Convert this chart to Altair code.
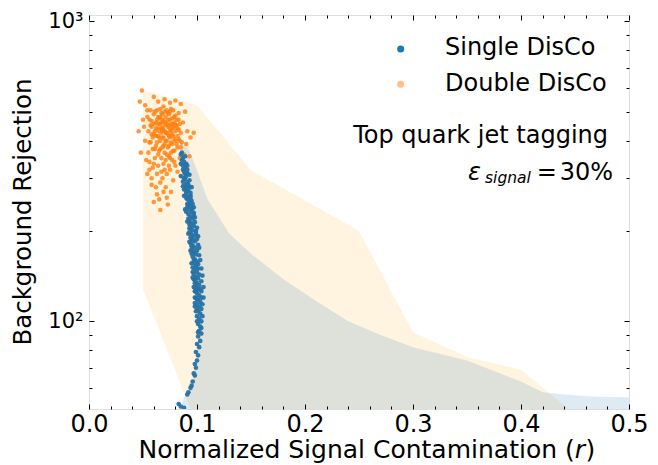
import altair as alt
import pandas as pd

# ---------------- data ----------------
# Double DisCo band (orange), vertical band: r -> [low, high] rejection
dd_band_r = [0.05, 0.10, 0.15, 0.20, 0.25, 0.30, 0.35, 0.40, 0.45]
dd_band_hi = [588, 526, 319, 253, 200, 92, 76, 69, 49]
dd_band_lo = [128, 45, 40, 40, 40, 40, 40, 40, 40]

# Single DisCo band (blue), horizontal band: rejection -> [r_lo, r_hi]
sd_band_rej = [395, 370, 319, 254, 196, 168, 138, 117, 100, 90, 82, 74, 63, 58, 57, 56, 55.8, 45]
sd_band_lo = [0.084, 0.086, 0.090, 0.093, 0.095, 0.097, 0.099, 0.101, 0.102, 0.102, 0.101,
              0.099, 0.096, 0.092, 0.091, 0.089, 0.088, 0.080]
sd_band_hi = [0.086, 0.093, 0.100, 0.110, 0.130, 0.150, 0.180, 0.210, 0.240, 0.270, 0.300,
              0.350, 0.400, 0.420, 0.440, 0.470, 0.500, 0.550]

# Double DisCo scatter (orange)
dd_r = [0.056, 0.058, 0.059, 0.060, 0.061, 0.062, 0.062, 0.063, 0.064, 0.064,
        0.065, 0.065, 0.066, 0.066, 0.067, 0.067, 0.068, 0.068, 0.069, 0.069,
        0.070, 0.070, 0.071, 0.071, 0.072, 0.072, 0.073, 0.073, 0.074, 0.074,
        0.075, 0.075, 0.076, 0.076, 0.077, 0.077, 0.078, 0.078, 0.079, 0.079,
        0.080, 0.080, 0.081, 0.081, 0.082, 0.083, 0.083, 0.060, 0.063, 0.066,
        0.068, 0.070, 0.072, 0.074, 0.076, 0.078, 0.061, 0.067, 0.071, 0.075,
        0.058, 0.057, 0.084, 0.082, 0.069, 0.073, 0.065, 0.077, 0.071, 0.064,
        0.049, 0.047, 0.052, 0.050, 0.054, 0.046, 0.052, 0.048, 0.053, 0.056,
        0.060, 0.058, 0.063, 0.066, 0.070, 0.074, 0.079, 0.084, 0.088, 0.093,
        0.097, 0.091, 0.087, 0.089, 0.085, 0.080, 0.075, 0.070, 0.064, 0.060,
        0.069, 0.073, 0.065, 0.062, 0.078, 0.055, 0.051, 0.086, 0.090, 0.094,
        0.054, 0.055, 0.056, 0.057, 0.058, 0.059, 0.060, 0.061, 0.062, 0.063,
        0.064, 0.065, 0.066, 0.067, 0.068, 0.068, 0.069, 0.070, 0.070, 0.071,
        0.072, 0.072, 0.073, 0.073, 0.074, 0.075, 0.075, 0.076, 0.076, 0.077,
        0.078, 0.078, 0.079, 0.080, 0.080, 0.081, 0.082, 0.083, 0.084, 0.085,
        0.062, 0.066, 0.069, 0.074, 0.079, 0.057, 0.083, 0.085, 0.064, 0.067,
        0.056, 0.059, 0.061, 0.064, 0.067, 0.069, 0.072, 0.075, 0.077, 0.080,
        0.058, 0.063, 0.068, 0.071, 0.076, 0.060, 0.066, 0.072, 0.082, 0.054]
dd_rej = [470, 445, 410, 490, 430, 385, 460, 505, 415, 440,
          370, 475, 400, 455, 425, 495, 380, 440, 465, 410,
          390, 450, 480, 425, 360, 400, 445, 470, 415, 385,
          500, 435, 455, 395, 420, 475, 370, 440, 460, 405,
          485, 430, 390, 450, 415, 470, 435, 455, 395, 510,
          490, 365, 505, 490, 365, 505, 375, 350, 345, 350,
          420, 395, 400, 380, 435, 420, 430, 445, 460, 480,
          588, 540, 525, 470, 505, 430, 400, 365, 345, 320,
          335, 300, 310, 290, 320, 330, 340, 350, 360, 355,
          425, 430, 460, 500, 530, 545, 535, 550, 540, 560,
          270, 245, 255, 280, 295, 365, 445, 395, 390, 410,
          480, 430, 395, 505, 465, 375, 420, 500, 440, 470,
          360, 410, 480, 440, 410, 470, 385, 500, 430, 400,
          455, 425, 380, 495, 450, 410, 470, 430, 510, 390,
          455, 415, 480, 400, 450, 470, 440, 405, 455, 425,
          415, 375, 520, 355, 370, 450, 495, 380, 455, 460,
          340, 325, 350, 330, 315, 335, 310, 320, 345, 330,
          285, 265, 300, 280, 270, 250, 235, 258, 315, 310]

# Single DisCo scatter (blue)
sd_r = [0.086, 0.087, 0.088, 0.087, 0.089, 0.088, 0.090, 0.089, 0.091, 0.089,
        0.090, 0.092, 0.090, 0.092, 0.091, 0.093, 0.089, 0.091, 0.088, 0.092,
        0.092, 0.094, 0.093, 0.095, 0.092, 0.094, 0.096, 0.093, 0.095, 0.097,
        0.094, 0.096, 0.093, 0.095, 0.097, 0.095, 0.098, 0.094, 0.096, 0.098,
        0.095, 0.097, 0.099, 0.096, 0.098, 0.100, 0.097, 0.099, 0.096, 0.098,
        0.100, 0.097, 0.099, 0.101, 0.098, 0.100, 0.102, 0.099, 0.101, 0.098,
        0.100, 0.102, 0.099, 0.101, 0.103, 0.100, 0.102, 0.104, 0.101, 0.103,
        0.100, 0.102, 0.104, 0.101, 0.103,
        0.102, 0.104, 0.101, 0.103, 0.100, 0.102, 0.099, 0.101, 0.100, 0.098,
        0.099, 0.097, 0.098, 0.096, 0.095, 0.094, 0.092, 0.091, 0.083, 0.085, 0.088,
        0.091, 0.096, 0.097, 0.093, 0.099, 0.096, 0.100, 0.095, 0.101, 0.097,
        0.103, 0.100, 0.098, 0.104, 0.090, 0.093, 0.087, 0.094,
        0.090, 0.086, 0.091, 0.087, 0.093, 0.088, 0.094, 0.090, 0.095, 0.091,
        0.096, 0.090, 0.097, 0.092, 0.098, 0.093, 0.099, 0.094, 0.100, 0.095,
        0.101, 0.096, 0.102, 0.097, 0.101, 0.096, 0.102, 0.098, 0.104, 0.099,
        0.104, 0.100, 0.105, 0.099, 0.105, 0.100, 0.104, 0.101,
        0.097, 0.089, 0.098, 0.091, 0.100, 0.092, 0.101, 0.093, 0.102, 0.094,
        0.103, 0.095, 0.104, 0.096, 0.105, 0.097, 0.106, 0.098, 0.106, 0.098,
        0.094, 0.088, 0.095, 0.087, 0.093, 0.085, 0.091, 0.085, 0.089, 0.085]
sd_rej = [365, 350, 340, 330, 325, 315, 305, 298, 290, 285,
          278, 272, 265, 260, 255, 250, 310, 320, 300, 285,
          245, 242, 236, 232, 228, 224, 220, 216, 212, 208,
          205, 201, 198, 195, 192, 188, 185, 182, 179, 176,
          173, 170, 167, 164, 161, 158, 156, 153, 151, 149,
          146, 144, 141, 139, 137, 134, 132, 130, 128, 126,
          124, 122, 120, 118, 116, 114, 112, 110, 108, 106,
          104, 102, 100, 98, 96,
          93, 91, 89, 86, 84, 82, 79, 77, 74, 72,
          70, 67, 66, 63, 61, 60, 58, 57, 53, 52, 51.5,
          240, 238, 226, 210, 200, 186, 172, 168, 155, 138,
          128, 110, 115, 120, 270, 280, 320, 262,
          335, 345, 312, 292, 295, 275, 268, 258, 252, 246,
          246, 232, 230, 220, 214, 204, 196, 190, 188, 178,
          180, 170, 166, 160, 150, 146, 143, 134, 136, 126,
          126, 118, 114, 108, 104, 100, 95, 92,
          240, 236, 222, 215, 205, 196, 192, 184, 176, 172,
          160, 156, 150, 140, 142, 130, 130, 120, 120, 112,
          258, 262, 280, 282, 308, 305, 330, 335, 355, 360]

# axis ticks / labels
x_major = [0.0, 0.1, 0.2, 0.3, 0.4, 0.5]
x_minor = [0.02, 0.04, 0.06, 0.08, 0.12, 0.14, 0.16, 0.18, 0.22, 0.24, 0.26, 0.28,
           0.32, 0.34, 0.36, 0.38, 0.42, 0.44, 0.46, 0.48]
y_major = [100, 1000]
y_minor = [60, 70, 80, 90, 200, 300, 400, 500, 600, 700, 800, 900]

legend_labels = ["Single DisCo", "Double DisCo"]
note_title = "Top quark jet tagging"
x_title = ["Normalized Signal Contamination (", "r", ")"]
y_title = "Background Rejection"

BLUE = "#1f77b4"
ORANGE = "#ff7f0e"
FONT = "DejaVu Sans"

# ---------------- scales ----------------
xs = alt.Scale(domain=[0, 0.5], nice=False, zero=False)
ys = alt.Scale(type="log", domain=[51, 1050], nice=False)

one = pd.DataFrame({"r": [0.25], "rej": [200.0]})

dd_band = pd.DataFrame({"r": dd_band_r, "hi": dd_band_hi, "lo": dd_band_lo})
sd_band = pd.DataFrame({"rej": sd_band_rej, "lo": sd_band_lo, "hi": sd_band_hi})
dd_pts = pd.DataFrame({"r": dd_r, "rej": dd_rej})
sd_pts = pd.DataFrame({"r": sd_r, "rej": sd_rej})

layers = []

# bands
layers.append(
    alt.Chart(dd_band).mark_area(clip=True, color="#ffa500", opacity=0.12).encode(
        x=alt.X("r:Q", scale=xs, axis=None),
        y=alt.Y("hi:Q", scale=ys, axis=None),
        y2="lo:Q",
    )
)
layers.append(
    alt.Chart(sd_band).mark_area(clip=True, orient="horizontal", color=BLUE, opacity=0.15).encode(
        y=alt.Y("rej:Q", scale=ys, axis=None),
        x=alt.X("lo:Q", scale=xs, axis=None),
        x2="hi:Q",
    )
)
# scatter
layers.append(
    alt.Chart(dd_pts).mark_circle(size=21, color=ORANGE, opacity=0.8, clip=True).encode(
        x=alt.X("r:Q", scale=xs, axis=None),
        y=alt.Y("rej:Q", scale=ys, axis=None),
    )
)
layers.append(
    alt.Chart(sd_pts).mark_circle(size=22, color="#2672a6", opacity=0.95, clip=True).encode(
        x=alt.X("r:Q", scale=xs, axis=None),
        y=alt.Y("rej:Q", scale=ys, axis=None),
    )
)


def xaxis_layer(axis):
    return alt.Chart(one).mark_point(opacity=0).encode(
        x=alt.X("r:Q", scale=xs, axis=axis))


def yaxis_layer(axis):
    return alt.Chart(one).mark_point(opacity=0).encode(
        y=alt.Y("rej:Q", scale=ys, axis=axis))


def tick_axis(orient, values, size):
    return alt.Axis(orient=orient, values=values, labels=False, domain=False, grid=False,
                    ticks=True, tickSize=size, offset=-size, tickColor="black",
                    tickWidth=1, title=None, zindex=2)


# label axes
layers.append(xaxis_layer(alt.Axis(orient="bottom", values=x_major, format=".1f",
                                   ticks=False, domain=False, grid=False,
                                   labelFlush=False, labelOverlap=False,
                                   labelFontSize=24, labelPadding=3, labelColor="black",
                                   labelFont=FONT, title=None)))
layers.append(yaxis_layer(alt.Axis(orient="left", values=y_major,
                                   labelExpr="datum.value >= 1000 ? '10\u00b3' : '10\u00b2'",
                                   ticks=False, domain=False, grid=False,
                                   labelFlush=False, labelOverlap=False,
                                   labelFontSize=21, labelPadding=6, labelColor="black",
                                   labelFont=FONT, title=None)))
# tick axes (inward)
for orient in ["bottom", "top"]:
    layers.append(xaxis_layer(tick_axis(orient, x_major, 5)))
    layers.append(xaxis_layer(tick_axis(orient, x_minor, 3)))
for orient in ["left", "right"]:
    layers.append(yaxis_layer(tick_axis(orient, y_major, 5)))
    layers.append(yaxis_layer(tick_axis(orient, y_minor, 3)))


def txt(s, x, y, size=24, align="left", style="normal", angle=0, baseline="alphabetic"):
    return alt.Chart(one).mark_text(text=s, align=align, baseline=baseline, fontSize=size,
                                    fontStyle=style, font=FONT, color="black",
                                    angle=angle).encode(x=alt.value(x), y=alt.value(y))


# legend
layers.append(alt.Chart(one).mark_circle(size=50, color=BLUE, opacity=1).encode(
    x=alt.value(311.7), y=alt.value(34)))
layers.append(alt.Chart(one).mark_circle(size=50, color="#ffbf87", opacity=1).encode(
    x=alt.value(311.7), y=alt.value(69.3)))
layers.append(txt(legend_labels[0], 356, 40))
layers.append(txt(legend_labels[1], 356, 76))

# annotations
layers.append(txt(note_title, 519, 128, align="right"))
layers.append(txt("\u03b5", 379, 165, style="italic"))
layers.append(txt("signal", 396, 168, size=15.5, style="italic"))
layers.append(txt("=", 457.7, 165, align="center"))
layers.append(txt("30%", 524, 165, align="right"))

# axis titles
layers.append(txt(x_title[0], 485.75, 443, size=25, align="right"))
layers.append(txt(x_title[1], 485.75, 443, size=25, style="italic"))
layers.append(txt(x_title[2], 496.5, 443, size=25))
layers.append(txt(y_title, -65, 197, size=24.5, align="center", angle=270, baseline="middle"))

chart = alt.layer(*layers).resolve_axis(x="independent", y="independent").properties(
    width=540, height=394,
    autosize=alt.AutoSizeParams(type="none"),
    padding={"left": 89, "top": 15, "right": 29, "bottom": 56},
).configure_view(stroke="black", strokeWidth=1.3).configure(font=FONT)

chart.save("out.html", embed_options={"renderer": "svg", "actions": False})
